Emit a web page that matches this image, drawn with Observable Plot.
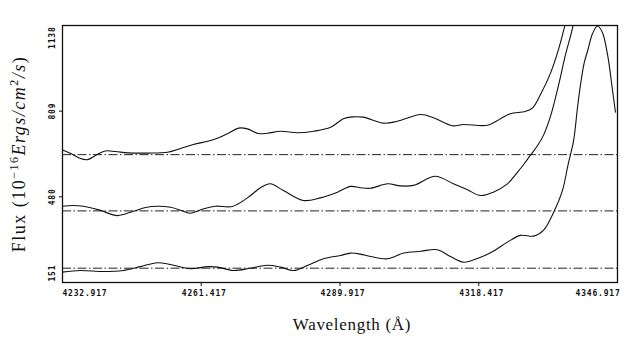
<!DOCTYPE html>
<html><head><meta charset="utf-8">
<script src="https://cdn.jsdelivr.net/npm/d3@7"></script>
<script src="https://cdn.jsdelivr.net/npm/@observablehq/plot@0.6"></script>
<style>body{margin:0;background:#fff;}</style>
</head><body><div id="chart"></div>
<script>
// Tick values
const xTicks = [4232.917, 4261.417, 4289.917, 4318.417, 4346.917];
const yTicks = [151, 480, 809, 1138];
// Continuum levels (dash-dot lines)
const continuum = [642, 426, 206];

// Top spectrum
const wlA = [4232.9, 4235.0, 4236.6, 4238.1, 4239.7, 4241.7, 4243.8, 4246.3, 4250.4, 4254.5, 4257.2, 4259.8, 4263.9, 4266.8, 4269.1, 4270.9, 4273.2, 4275.0, 4277.7, 4281.2, 4284.5, 4288.0, 4290.6, 4292.5, 4294.7, 4298.9, 4301.7, 4306.5, 4309.1, 4313.0, 4315.3, 4320.2, 4322.9, 4324.9, 4328.0, 4329.5, 4331.1, 4333.2, 4334.8, 4336.0, 4336.6];
const fluxA = [660, 643, 627, 623, 639, 656, 654, 649, 648, 651, 666, 681, 699, 722, 744, 741, 723, 724, 732, 726, 732, 747, 780, 787, 786, 763, 770, 796, 784, 753, 758, 755, 780, 799, 808, 822, 873, 957, 1046, 1130, 1176];

// Middle spectrum
const wlB = [4232.9, 4235.0, 4237.2, 4240.7, 4244.2, 4247.5, 4250.0, 4252.4, 4255.1, 4257.6, 4259.2, 4261.9, 4264.3, 4267.8, 4270.9, 4273.6, 4275.6, 4278.3, 4282.4, 4285.9, 4289.4, 4292.1, 4294.1, 4296.2, 4299.7, 4302.3, 4305.0, 4309.5, 4313.2, 4316.1, 4318.8, 4321.4, 4324.3, 4326.4, 4327.8, 4329.0, 4330.5, 4331.7, 4333.2, 4334.8, 4336.2, 4337.7, 4338.1];
const fluxB = [444, 447, 444, 428, 408, 425, 439, 444, 440, 426, 417, 434, 444, 443, 476, 515, 530, 504, 466, 476, 498, 520, 515, 513, 530, 522, 524, 559, 530, 507, 485, 498, 530, 575, 608, 639, 677, 716, 792, 908, 1023, 1130, 1176];

// Bottom spectrum
const wlC = [4232.9, 4236.6, 4241.3, 4245.4, 4248.9, 4252.4, 4255.1, 4259.2, 4262.7, 4264.8, 4268.0, 4271.5, 4275.0, 4277.7, 4280.4, 4283.2, 4286.5, 4290.0, 4292.1, 4294.1, 4296.2, 4299.7, 4303.0, 4306.5, 4309.9, 4312.6, 4315.3, 4318.8, 4321.4, 4324.3, 4327.0, 4329.7, 4331.7, 4333.8, 4335.6, 4336.8, 4337.9, 4338.7, 4339.3, 4340.1, 4340.8, 4341.8, 4342.8, 4343.8, 4344.9, 4345.9, 4346.5];
const fluxC = [191, 197, 193, 197, 212, 227, 220, 204, 212, 210, 197, 206, 217, 210, 197, 216, 242, 255, 264, 260, 251, 242, 264, 271, 277, 251, 229, 248, 271, 306, 332, 329, 351, 421, 504, 607, 696, 823, 908, 996, 1042, 1107, 1136, 1112, 1023, 888, 805];

const rows = [
  ...wlA.map((x, i) => ({x, y: fluxA[i], s: "A"})),
  ...wlB.map((x, i) => ({x, y: fluxB[i], s: "B"})),
  ...wlC.map((x, i) => ({x, y: fluxC[i], s: "C"}))
];

const tickFont = {fontFamily: "DejaVu Sans Mono", fontWeight: "bold", fontSize: 8, fill: "#111"};
const fmtX = d => d.toFixed(3);
const fmtY = d => String(d);

const chart = Plot.plot({
  width: 628, height: 345,
  marginLeft: 62, marginRight: 11, marginTop: 25, marginBottom: 63,
  style: {background: "#fff", letterSpacing: "0.8px"},
  x: {domain: [xTicks[0], xTicks[xTicks.length - 1]]},
  y: {domain: [yTicks[0], yTicks[yTicks.length - 1]]},
  marks: [
    Plot.ruleY(continuum, {stroke: "#222", strokeWidth: 1, strokeDasharray: "9,2.5,1.5,2.5"}),
    Plot.line(rows, {x: "x", y: "y", z: "s", curve: "catmull-rom", stroke: "#111", strokeWidth: 1.1, clip: true}),
    Plot.frame({stroke: "#111", strokeWidth: 1.3}),
    Plot.axisX(xTicks.slice(1, -1), {tickSize: 4, tickFormat: () => "", label: null, stroke: "#111"}),
    Plot.axisY(yTicks.slice(1, -1), {tickSize: 3, tickFormat: () => "", label: null, stroke: "#111"}),
    Plot.text([xTicks[0]], {x: d => d, text: fmtX, frameAnchor: "bottom", textAnchor: "start", lineAnchor: "top", dy: 8, ...tickFont}),
    Plot.text(xTicks.slice(1, -1), {x: d => d, text: fmtX, frameAnchor: "bottom", textAnchor: "middle", lineAnchor: "top", dy: 8, dx: 3, ...tickFont}),
    Plot.text([xTicks[xTicks.length - 1]], {x: d => d, text: fmtX, frameAnchor: "bottom", textAnchor: "end", lineAnchor: "top", dy: 8, dx: 3, ...tickFont}),
    Plot.text([yTicks[0]], {y: d => d, text: fmtY, frameAnchor: "left", rotate: -90, textAnchor: "start", lineAnchor: "middle", dx: -10.5, dy: -1, ...tickFont}),
    Plot.text(yTicks.slice(1, -1), {y: d => d, text: fmtY, frameAnchor: "left", rotate: -90, textAnchor: "middle", lineAnchor: "middle", dx: -10.5, ...tickFont}),
    Plot.text([yTicks[yTicks.length - 1]], {y: d => d, text: fmtY, frameAnchor: "left", rotate: -90, textAnchor: "end", lineAnchor: "middle", dx: -10.5, dy: 1, ...tickFont})
  ]
});

const svg = d3.select(chart);
const serif = "'Liberation Serif', 'Times New Roman', serif";
// x title
svg.append("text")
  .attr("x", 352).attr("y", 330)
  .attr("text-anchor", "middle")
  .attr("font-family", serif).attr("font-size", 17)
  .style("letter-spacing", "0.7px")
  .attr("fill", "#111")
  .text("Wavelength (Å)");
// y title
const yt = svg.append("text")
  .attr("transform", "translate(25,154) rotate(-90)")
  .attr("text-anchor", "middle")
  .attr("font-family", serif).attr("font-size", 18)
  .style("letter-spacing", "1.5px")
  .attr("fill", "#111");
yt.append("tspan").text("Flux (10");
yt.append("tspan").attr("dy", -7).attr("font-size", 12).text("−16");
yt.append("tspan").attr("dy", 7).attr("font-style", "italic").text("Ergs/cm");
yt.append("tspan").attr("dy", -7).attr("font-size", 12).text("2");
yt.append("tspan").attr("dy", 7).attr("font-style", "italic").text("/s");
yt.append("tspan").text(")");

document.getElementById("chart").appendChild(chart);
</script>
</body></html>
